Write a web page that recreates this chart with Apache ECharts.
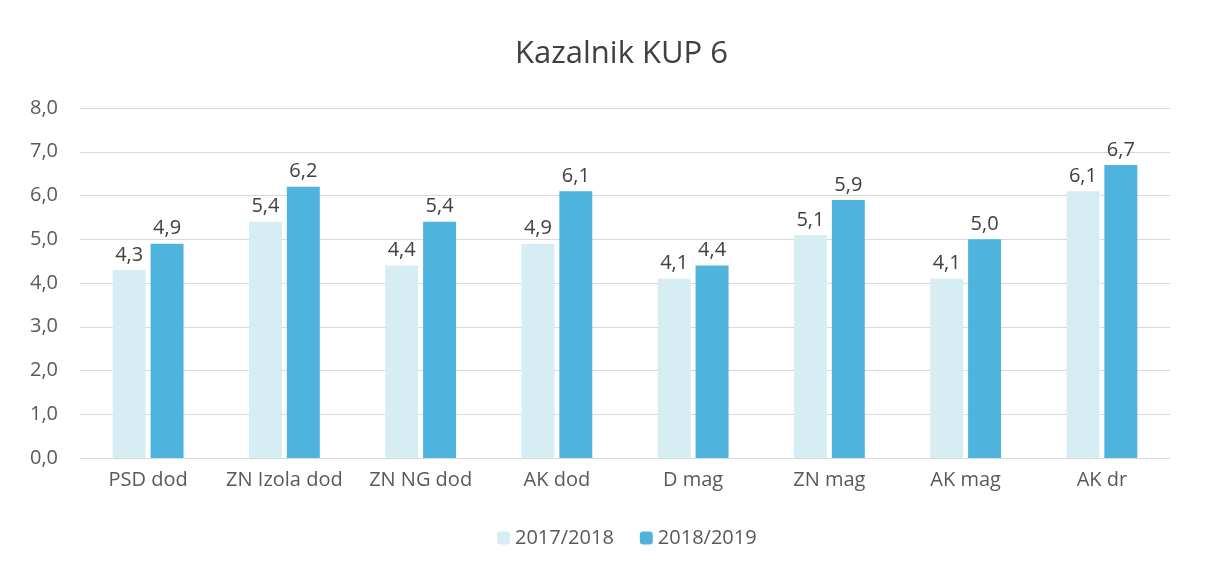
<!DOCTYPE html>
<html>
<head>
<meta charset="utf-8">
<script src="https://cdn.jsdelivr.net/npm/echarts@6/dist/echarts.min.js"></script>
<style>
html, body { margin: 0; padding: 0; background: #fff; }
#chart { width: 1220px; height: 569px; }
</style>
</head>
<body>
<div id="chart"></div>
<script>
var categories = ['PSD dod', 'ZN Izola dod', 'ZN NG dod', 'AK dod', 'D mag', 'ZN mag', 'AK mag', 'AK dr'];
var seriesNames = ['2017/2018', '2018/2019'];
var values2017 = [4.3, 5.4, 4.4, 4.9, 4.1, 5.1, 4.1, 6.1];
var values2018 = [4.9, 6.2, 5.4, 6.1, 4.4, 5.9, 5.0, 6.7];

function comma(v) {
	return v.toFixed(1).replace('.', ',');
}

var chart = echarts.init(document.getElementById('chart'));
var fontFam = '"Open Sans", "Noto Sans", sans-serif';

chart.setOption({
	textStyle: { fontFamily: fontFam },
	title: {
		text: 'Kazalnik KUP 6',
		left: 510,
		top: 34,
		textStyle: { fontSize: 31, fontWeight: 'normal', color: '#404040', fontFamily: fontFam }
	},
	legend: {
		bottom: 16,
		left: 492,
		itemWidth: 13,
		itemHeight: 13,
		itemGap: 26,
		textStyle: { fontSize: 20, color: '#595959' },
		data: seriesNames
	},
	grid: {
		left: 80,
		right: 50,
		top: 108,
		bottom: 111,
		containLabel: false
	},
	xAxis: {
		type: 'category',
		data: categories,
		axisTick: { show: false },
		axisLine: { lineStyle: { color: '#d9d9d9' } },
		axisLabel: { interval: 0, fontSize: 20, color: '#595959', margin: 12 }
	},
	yAxis: {
		type: 'value',
		min: 0,
		max: 8,
		interval: 1,
		axisLabel: { fontSize: 20, color: '#595959', margin: 22, formatter: comma },
		splitLine: { lineStyle: { color: '#d9d9d9' } },
		axisLine: { show: false },
		axisTick: { show: false }
	},
	series: [
		{
			name: seriesNames[0],
			type: 'bar',
			data: values2017,
			barGap: '15%',
			barCategoryGap: '48%',
			itemStyle: { color: '#d6edf4' },
			label: { show: true, position: 'top', fontSize: 20, color: '#404040', formatter: function(p) { return comma(p.value); } }
		},
		{
			name: seriesNames[1],
			type: 'bar',
			data: values2018,
			itemStyle: { color: '#4eb4dd' },
			label: { show: true, position: 'top', fontSize: 20, color: '#404040', formatter: function(p) { return comma(p.value); } }
		}
	]
});
window.addEventListener('resize', chart.resize);
</script>
</body>
</html>
